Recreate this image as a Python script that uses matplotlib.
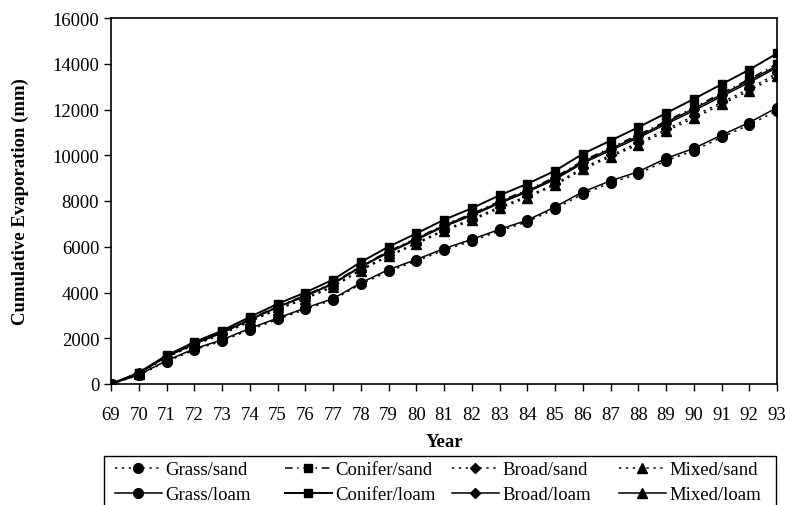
import matplotlib
matplotlib.use('Agg')
import matplotlib.pyplot as plt
from matplotlib.patches import Rectangle
import numpy as np

plt.rcParams['font.family'] = ['Liberation Serif', 'DejaVu Serif']

years = np.arange(69, 94)

# cumulative evaporation (mm)
grass_sand = [0, 380, 980, 1490, 1880, 2370, 2820, 3260, 3680, 4360, 4930, 5370, 5850,
              6250, 6690, 7090, 7660, 8310, 8790, 9190, 9760, 10200, 10780, 11330, 11950]
conifer_sand = [0, 480, 1210, 1770, 2260, 2840, 3390, 3880, 4420, 5160, 5800, 6370, 6960,
                7440, 7990, 8480, 9040, 9760, 10330, 10890, 11490, 12090, 12710, 13330, 13990]
broad_sand = [0, 460, 1170, 1720, 2190, 2750, 3280, 3750, 4280, 5000, 5620, 6170, 6740,
              7210, 7740, 8210, 8750, 9450, 10000, 10540, 11130, 11710, 12310, 12910, 13580]
mixed_sand = [0, 450, 1160, 1700, 2170, 2720, 3250, 3720, 4240, 4960, 5580, 6120, 6690,
              7150, 7680, 8150, 8690, 9380, 9930, 10460, 11050, 11620, 12220, 12820, 13480]
grass_loam = [0, 400, 1020, 1540, 1930, 2430, 2880, 3320, 3730, 4420, 5000, 5440, 5920,
              6320, 6760, 7160, 7740, 8400, 8880, 9280, 9860, 10300, 10880, 11430, 12080]
conifer_loam = [0, 500, 1250, 1830, 2330, 2930, 3500, 4000, 4560, 5330, 6000, 6580, 7180,
                7680, 8250, 8750, 9320, 10060, 10640, 11220, 11840, 12460, 13100, 13740, 14450]
broad_loam = [0, 470, 1200, 1760, 2250, 2820, 3370, 3860, 4400, 5140, 5780, 6340, 6930,
              7410, 7950, 8440, 9000, 9710, 10280, 10830, 11430, 12030, 12650, 13260, 13910]
mixed_loam = [0, 470, 1190, 1750, 2230, 2800, 3350, 3830, 4370, 5110, 5740, 6300, 6880,
              7360, 7900, 8390, 8940, 9650, 10210, 10760, 11360, 11950, 12570, 13180, 13840]

dot = (0, (1.5, 3))
dashdot = (0, (5, 3, 1, 3))

# (sand, loam) pairs, one legend column each
columns = [
    (('Grass/sand', grass_sand, dot), ('Grass/loam', grass_loam, '-'), 'o', 7),
    (('Conifer/sand', conifer_sand, dashdot), ('Conifer/loam', conifer_loam, '-'), 's', 6),
    (('Broad/sand', broad_sand, dot), ('Broad/loam', broad_loam, '-'), 'D', 5),
    (('Mixed/sand', mixed_sand, dot), ('Mixed/loam', mixed_loam, '-'), '^', 6.5),
]
col_x = [115, 285, 452, 619]

fig = plt.figure(figsize=(7.85, 5.06), dpi=100)
ax = fig.add_axes([111/785, 121/506, 666/785, 366/506])

col_handles = []
for sand, loam, mk, ms in columns:
    hs = []
    for name, vals, ls in (sand, loam):
        lw = 1.4 if name == 'Conifer/loam' else 1.1
        h, = ax.plot(years, vals, linestyle=ls, color='black', lw=lw, marker=mk,
                     markersize=ms, markerfacecolor='black', markeredgecolor='black',
                     label=name)
        hs.append(h)
    col_handles.append(hs)

ax.set_xlim(69, 93)
ax.set_ylim(0, 16000)
ax.set_xticks(years)
ax.set_xticklabels([str(y) for y in years])
ax.set_yticks(np.arange(0, 16001, 2000))
ax.tick_params(axis='both', direction='out', length=5, width=1, labelsize=13.5, colors='black')
ax.tick_params(axis='x', pad=11)
for sp in ax.spines.values():
    sp.set_linewidth(1.2)
    sp.set_color('black')

ax.set_xlabel('Year', fontsize=13.5, fontweight='bold', labelpad=7)
ax.set_ylabel('Cumulative Evaporation (mm)', fontsize=13.5, fontweight='bold', labelpad=17)

# legend: one frameless legend per column, plus a box round them
for x, hs in zip(col_x, col_handles):
    leg = fig.legend(handles=hs, loc='upper left', bbox_to_anchor=(x/785, 1 - 462/506),
                     fontsize=13.5, frameon=False, handlelength=2.5, handletextpad=0.2,
                     labelspacing=0.42, borderpad=0, borderaxespad=0)
fig.add_artist(Rectangle((104/785, -0.1), (776 - 104)/785, 0.1 + (506 - 457)/506,
                         transform=fig.transFigure, fill=False, lw=1.0, edgecolor='black'))

fig.savefig('out.png', dpi=100)
